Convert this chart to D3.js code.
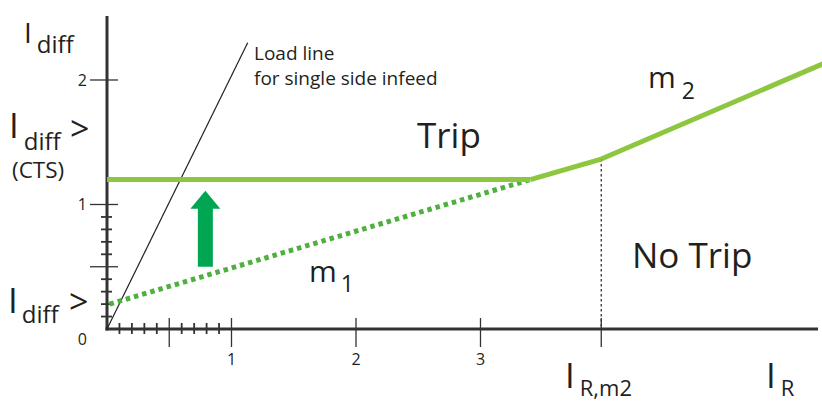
<!DOCTYPE html>
<html>
<head>
<meta charset="utf-8">
<script src="https://cdn.jsdelivr.net/npm/d3@7"></script>
<style>
  html, body { margin: 0; padding: 0; background: #fff; }
  svg { display: block; font-family: "Open Sans", "Noto Sans", sans-serif; }
  text { fill: #231f20; }
</style>
</head>
<body>
<svg id="chart" width="822" height="402"></svg>
<script>
// ---------- data ----------
const xLabelTicks = [1, 2, 3];
const xMajorTicks = [0.5, 1, 2, 3];
const xMinorTicks = [0.1, 0.2, 0.3, 0.4, 0.6, 0.7, 0.8, 0.9];
const yLabelTicks = [1, 2];
const yMajorTicks = [0.5, 1, 2];
const yMinorTicks = [0.1, 0.2, 0.3, 0.4, 0.6, 0.7, 0.8, 0.9];
const ctsLevel = 1.2;            // I_diff> (CTS)
const pickup = 0.2;              // I_diff>
const kneeX = 3.4;               // where slope m1 meets CTS level
const IRm2 = 3.97;               // I_R,m2
const IRm2Value = 1.365;
const endPoint = [5.75, 2.13];
const ctsLine = [[0, ctsLevel], [kneeX, ctsLevel]];
const m1Solid = [[kneeX, ctsLevel], [IRm2, IRm2Value]];
const m2Line = [[IRm2, IRm2Value], endPoint];
const m1Dotted = [[0.02, pickup], [kneeX, ctsLevel]];
const loadLine = [[0, 0], [1.13, 2.3]];
const arrowX = 0.79, arrowFrom = 0.5, arrowTo = 1.11;

// ---------- scales ----------
const svg = d3.select("#chart");
const x = d3.scaleLinear().domain([0, 5.711]).range([107, 818]);
const y = d3.scaleLinear().domain([0, 2.514]).range([329, 16]);
const line = d3.line().x(d => x(d[0])).y(d => y(d[1]));

const axisColor = "#333";

// ---------- minor / major ticks ----------
const g = svg.append("g");
g.selectAll(".xminor").data(xMinorTicks).join("line")
  .attr("x1", d => x(d)).attr("x2", d => x(d))
  .attr("y1", y(0) - 6).attr("y2", y(0) + 5)
  .attr("stroke", axisColor).attr("stroke-width", 1.8);
g.selectAll(".xmajor").data(xMajorTicks).join("line")
  .attr("x1", d => x(d)).attr("x2", d => x(d))
  .attr("y1", y(0) - 11).attr("y2", y(0) + 18)
  .attr("stroke", axisColor).attr("stroke-width", 1.3);
g.append("line")
  .attr("x1", x(IRm2)).attr("x2", x(IRm2))
  .attr("y1", y(0) - 11).attr("y2", y(0) + 18)
  .attr("stroke", axisColor).attr("stroke-width", 1.3);
g.selectAll(".yminor").data(yMinorTicks).join("line")
  .attr("x1", x(0) - 6).attr("x2", x(0) + 5)
  .attr("y1", d => y(d)).attr("y2", d => y(d))
  .attr("stroke", axisColor).attr("stroke-width", 1.8);
g.selectAll(".ymajor").data(yMajorTicks).join("line")
  .attr("x1", x(0) - 17).attr("x2", x(0) + 11)
  .attr("y1", d => y(d)).attr("y2", d => y(d))
  .attr("stroke", axisColor).attr("stroke-width", 1.3);

// vertical dotted line at I_R,m2
g.append("line")
  .attr("x1", x(IRm2)).attr("x2", x(IRm2))
  .attr("y1", y(IRm2Value)).attr("y2", y(0))
  .attr("stroke", "#333").attr("stroke-width", 1.3)
  .attr("stroke-dasharray", "2.5,2.5");

// axes lines
g.append("line").attr("x1", x(0)).attr("x2", x(0))
  .attr("y1", y(2.514)).attr("y2", y(0) + 1.5)
  .attr("stroke", axisColor).attr("stroke-width", 3);
g.append("line").attr("x1", x(0) - 1.5).attr("x2", x(5.711))
  .attr("y1", y(0)).attr("y2", y(0))
  .attr("stroke", axisColor).attr("stroke-width", 3);

// tick labels
g.selectAll(".xl").data(xLabelTicks).join("text")
  .attr("x", d => x(d)).attr("y", 365)
  .attr("text-anchor", "middle").attr("font-size", 16)
  .text(d => d);
g.selectAll(".yl").data(yLabelTicks).join("text")
  .attr("x", 87).attr("y", d => y(d) + 6)
  .attr("text-anchor", "end").attr("font-size", 16)
  .text(d => d);
g.append("text").attr("x", 87).attr("y", 345)
  .attr("text-anchor", "end").attr("font-size", 16).text("0");

// load line
g.append("path").attr("d", line(loadLine))
  .attr("fill", "none").attr("stroke", "#231f20").attr("stroke-width", 1.2);

// characteristic
g.append("path").attr("d", line(m1Dotted))
  .attr("fill", "none").attr("stroke", "#4fb040").attr("stroke-width", 5)
  .attr("stroke-dasharray", "4.5,4");
[ctsLine, m1Solid, m2Line].forEach(seg => {
  g.append("path").attr("d", line(seg))
    .attr("fill", "none").attr("stroke", "#8dc63f").attr("stroke-width", 5)
    .attr("stroke-linejoin", "round");
});

// arrow
const ax = x(arrowX), ay0 = y(arrowFrom), ay1 = y(arrowTo);
const arrowPath = d3.path();
arrowPath.moveTo(ax - 7.5, ay0);
arrowPath.lineTo(ax - 7.5, ay1 + 18);
arrowPath.lineTo(ax - 15, ay1 + 18);
arrowPath.lineTo(ax, ay1);
arrowPath.lineTo(ax + 15, ay1 + 18);
arrowPath.lineTo(ax + 7.5, ay1 + 18);
arrowPath.lineTo(ax + 7.5, ay0);
arrowPath.closePath();
g.append("path").attr("d", arrowPath.toString()).attr("fill", "#00a651");

// ---------- labels ----------
function subLabel(xp, yBase, main, mainSize, sub, subSize, dx, dy) {
  const t = g.append("text").attr("x", xp).attr("y", yBase);
  t.append("tspan").attr("font-size", mainSize).text(main);
  t.append("tspan").attr("font-size", subSize).attr("dx", dx).attr("dy", dy).text(sub);
  return t;
}
subLabel(24, 43, "I", 28, "diff", 24, 5, 10);
subLabel(9, 138, "I", 35, "diff", 24, 5, 12);
g.append("text").attr("x", 70).attr("y", 141).attr("font-size", 34).text(">");
g.append("text").attr("x", 12).attr("y", 178).attr("font-size", 22.5).text("(CTS)");
subLabel(8, 313, "I", 35, "diff", 24, 4, 10);
g.append("text").attr("x", 69).attr("y", 314).attr("font-size", 34).text(">");

g.append("text").attr("x", 254).attr("y", 60).attr("font-size", 19).text("Load line");
g.append("text").attr("x", 254).attr("y", 85).attr("font-size", 19).text("for single side infeed");

g.append("text").attr("x", 417).attr("y", 148).attr("font-size", 35).text("Trip");
g.append("text").attr("x", 632).attr("y", 268).attr("font-size", 35).text("No Trip");

subLabel(309, 282, "m", 30, "1", 23, 4, 10);
subLabel(648, 88, "m", 30, "2", 23, 6, 11);

subLabel(565, 388, "I", 35, "R,m2", 22, 5, 8);
subLabel(766, 388, "I", 35, "R", 22, 5, 8);
</script>
</body>
</html>
